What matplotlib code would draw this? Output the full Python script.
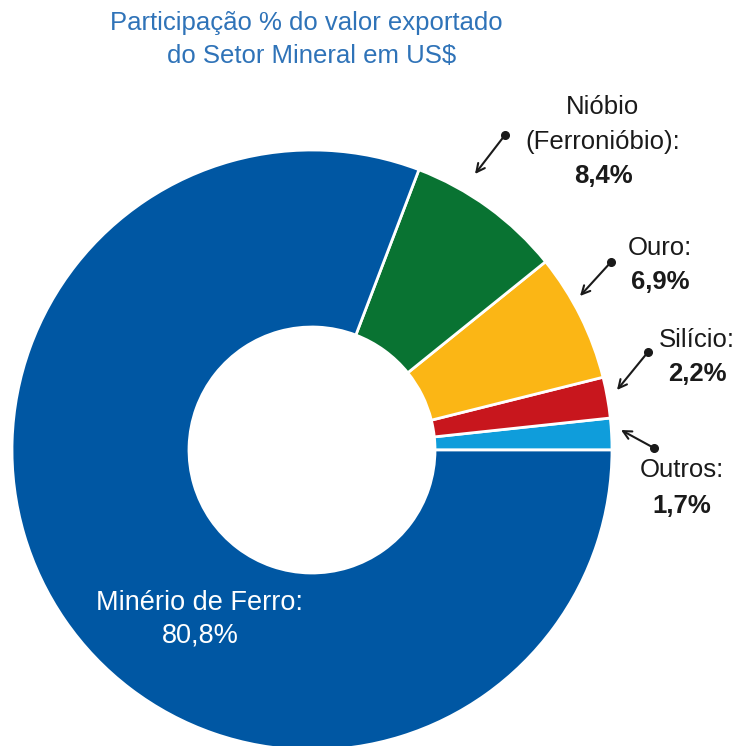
import matplotlib.pyplot as plt

# shares of mineral sector export value (US$)
labels = ['Outros', 'Silício', 'Ouro', 'Nióbio\n(Ferronióbio)', 'Minério de Ferro']
values = [1.7, 2.2, 6.9, 8.4, 80.8]
value_text = ['1,7%', '2,2%', '6,9%', '8,4%', '80,8%']
colors = ['#0f9ddb', '#c8161d', '#fbb615', '#097332', '#0057a3']

plt.rcParams['font.family'] = ['Liberation Sans', 'DejaVu Sans']

fig = plt.figure(figsize=(7.4, 7.46), dpi=100)
ax = fig.add_axes([0, 0, 1, 1])

# pixel helper: chart centre sits at (312, 450) px, radius 300 px
def px(x, y):
    return ((x - 312) / 300, (450 - y) / 300)

ax.pie(values, colors=colors, startangle=0, counterclock=True, radius=1.0,
       wedgeprops=dict(width=0.59, edgecolor='white', linewidth=2))

ax.set_xlim(-312 / 300, (740 - 312) / 300)
ax.set_ylim(-296 / 300, 450 / 300)
ax.set_aspect('equal')
ax.axis('off')

title_col = '#2f73b8'
ax.text(*px(306, 23), 'Participação % do valor exportado', ha='center', va='center',
        fontsize=18.5, color=title_col)
ax.text(*px(312, 56), 'do Setor Mineral em US$', ha='center', va='center',
        fontsize=18.5, color=title_col)

txt = '#1a1a1a'
fs = 18.5
# Nióbio
ax.text(*px(603, 107), 'Nióbio', ha='center', va='center', fontsize=fs, color=txt)
ax.text(*px(603, 142), '(Ferronióbio):', ha='center', va='center', fontsize=fs, color=txt)
ax.text(*px(603, 176), value_text[3], ha='center', va='center', fontsize=fs,
        color=txt, fontweight='bold')
# Ouro
ax.text(*px(660, 248), 'Ouro:', ha='center', va='center', fontsize=fs, color=txt)
ax.text(*px(660, 282), value_text[2], ha='center', va='center', fontsize=fs,
        color=txt, fontweight='bold')
# Silício
ax.text(*px(697, 340), 'Silício:', ha='center', va='center', fontsize=fs, color=txt)
ax.text(*px(697, 374), value_text[1], ha='center', va='center', fontsize=fs,
        color=txt, fontweight='bold')
# Outros
ax.text(*px(682, 470), 'Outros:', ha='center', va='center', fontsize=fs, color=txt)
ax.text(*px(682, 506), value_text[0], ha='center', va='center', fontsize=fs,
        color=txt, fontweight='bold')
# Minério de Ferro
ax.text(*px(200, 603), 'Minério de Ferro:', ha='center', va='center', fontsize=19.5,
        color='white')
ax.text(*px(200, 636), value_text[4], ha='center', va='center', fontsize=19.5,
        color='white')

# pointer arrows: dot at tail, head at slice
arrows = [((505, 135), (475, 174)),
          ((611, 262), (580, 296)),
          ((648, 352), (617, 390)),
          ((654, 448), (621, 430))]
for tail, head in arrows:
    ax.annotate('', xy=px(*head), xytext=px(*tail),
                arrowprops=dict(arrowstyle='->,head_length=0.6,head_width=0.3',
                                color='#1a1a1a', lw=1.5, shrinkA=0, shrinkB=0))
    ax.plot(*px(*tail), 'o', color='#1a1a1a', markersize=5.5)

fig.savefig('out.png', dpi=100, facecolor='white')
